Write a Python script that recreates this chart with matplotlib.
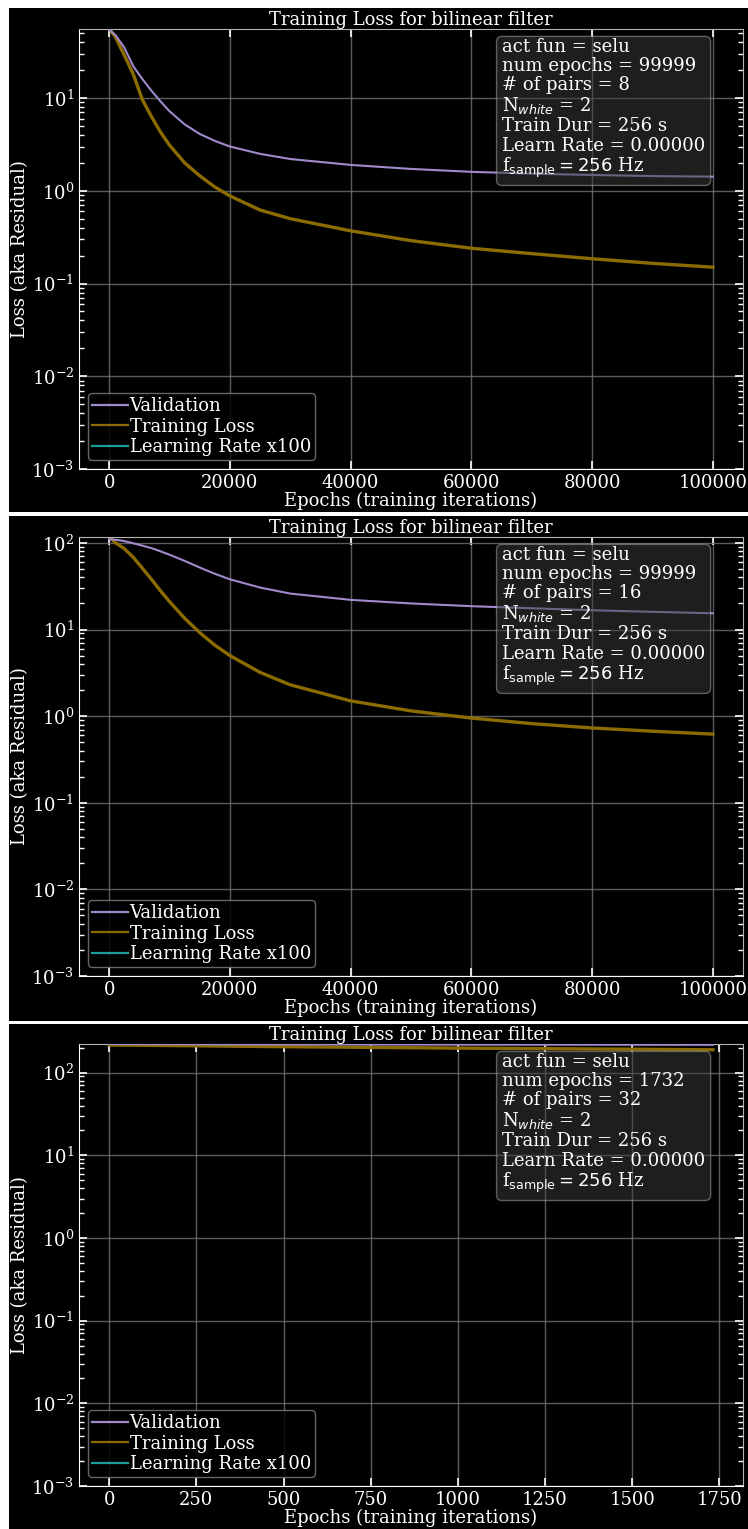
import matplotlib
matplotlib.use("Agg")
import matplotlib.pyplot as plt
from matplotlib.patches import Rectangle
from matplotlib.ticker import LogLocator, NullFormatter, MultipleLocator

# ---- data -------------------------------------------------------------
epochs_a = [0, 1000, 2500, 4000, 5500, 7000, 8500, 10000, 12500, 15000, 17500,
            20000, 25000, 30000, 40000, 50000, 60000, 70000, 80000, 90000, 99999]

val_8 = [54, 48, 35, 22, 16, 12, 9.2, 7.2, 5.2, 4.1, 3.45,
         3.0, 2.5, 2.2, 1.9, 1.72, 1.6, 1.53, 1.48, 1.44, 1.42]
train_8 = [55.5, 46, 29, 18, 9.6, 6.3, 4.3, 3.1, 2.0, 1.45, 1.1,
           0.88, 0.62, 0.50, 0.37, 0.29, 0.24, 0.21, 0.185, 0.165, 0.15]

val_16 = [110, 109, 105, 99, 93, 87, 80, 73, 62, 52, 44,
          38, 30.5, 26, 22, 20, 18.6, 17.6, 16.7, 16.0, 15.4]
train_16 = [117, 101, 86, 68, 51, 38, 28, 21, 13.5, 9.2, 6.6,
            5.0, 3.2, 2.3, 1.5, 1.15, 0.95, 0.82, 0.73, 0.67, 0.62]

epochs_b = [0, 250, 500, 750, 1000, 1250, 1500, 1731]
val_32 = [222, 221, 220, 219, 218.5, 218, 217.5, 217]
train_32 = [216, 211, 206, 202, 198, 195, 192, 189]

learn_rate = [1e-6, 1e-6, 1e-6]
num_epochs = [99999, 99999, 1732]
num_pairs = [8, 16, 32]
act_fun = "selu"
n_white = 2
train_dur = 256
f_sample = 256

# ---- style ------------------------------------------------------------
FS = 13
plt.rcParams["font.family"] = ["DejaVu Serif"]
plt.rcParams["font.size"] = FS
plt.rcParams["text.color"] = "white"
plt.rcParams["axes.labelcolor"] = "white"
plt.rcParams["xtick.color"] = "white"
plt.rcParams["ytick.color"] = "white"
plt.rcParams["mathtext.fontset"] = "dejavusans"

C_VAL = "#a08acb"
C_TRAIN = "#8c6c00"
C_LR = "#1a9e9a"

W, H = 748, 1529
fig = plt.figure(figsize=(W / 100, H / 100), dpi=100, facecolor="white")


def fy(py):
    return 1 - py / H


# panel backgrounds (x0, y0, x1, y1 in pixels from top-left)
panels = [(9, 8, 748, 512), (9, 516, 748, 1021), (9, 1024, 748, 1529)]
axes_px = [(79, 29, 743, 469), (79, 537, 743, 976), (79, 1044, 743, 1486)]

series = [
    (epochs_a, val_8, train_8),
    (epochs_a, val_16, train_16),
    (epochs_b, val_32, train_32),
]

for i in range(3):
    x0, y0, x1, y1 = panels[i]
    fig.patches.append(Rectangle((x0 / W, fy(y1)), (x1 - x0) / W, (y1 - y0) / H,
                                 transform=fig.transFigure, facecolor="black",
                                 edgecolor="none", zorder=-10))
    l, t, r, b = axes_px[i]
    ax = fig.add_axes([l / W, fy(b), (r - l) / W, (b - t) / H])
    ax.set_facecolor("black")

    ep, val, tr = series[i]
    lr100 = [v * 100 for v in [learn_rate[i]] * len(ep)]
    ax.plot(ep, val, color=C_VAL, lw=1.5, label="Validation", zorder=3)
    ax.plot(ep, tr, color=C_TRAIN, lw=2.4, label="Training Loss", zorder=2)
    ax.plot(ep, lr100, color=C_LR, lw=1.5, label="Learning Rate x100", zorder=2)

    ax.set_yscale("log")
    ax.set_ylim(1e-3, max(max(val), max(tr)))
    ax.yaxis.set_major_locator(LogLocator(base=10, numticks=10))
    ax.yaxis.set_minor_locator(LogLocator(base=10, subs=range(2, 10), numticks=10))
    ax.yaxis.set_minor_formatter(NullFormatter())
    if i == 2:
        ax.xaxis.set_major_locator(MultipleLocator(250))

    ax.grid(True, which="major", color="0.45", lw=1.0, alpha=0.8)
    ax.tick_params(which="both", direction="in", top=True, right=True,
                   colors="white", labelsize=FS)
    ax.tick_params(which="major", length=6, width=1.2)
    ax.tick_params(which="minor", length=3.5, width=1.0)
    for side in ("left", "bottom"):
        ax.spines[side].set_color("white")
    for side in ("top", "right"):
        ax.spines[side].set_color("0.7")

    ax.set_title("Training Loss for bilinear filter", fontsize=FS, color="white", pad=3)
    ax.set_xlabel("Epochs (training iterations)", fontsize=FS, labelpad=0)
    ax.set_ylabel("Loss (aka Residual)", fontsize=FS, labelpad=2)

    info = (f"act fun = {act_fun}\n"
            f"num epochs = {num_epochs[i]}\n"
            f"# of pairs = {num_pairs[i]}\n"
            f"N$_{{white}}$ = {n_white}\n"
            f"Train Dur = {train_dur} s\n"
            f"Learn Rate = {learn_rate[i]:.5f}\n"
            f"f$_{{\\mathrm{{sample}}}} = {f_sample}$ Hz")
    ax.text(0.637, 0.98, info, transform=ax.transAxes, va="top", ha="left",
            fontsize=FS, color="white", zorder=5, linespacing=1.08,
            bbox=dict(boxstyle="round,pad=0.3", facecolor="#3a3d3d",
                      edgecolor="#b0b0b0", alpha=0.5))

    leg = ax.legend(loc="lower left", facecolor="black", edgecolor="0.5",
                    framealpha=0.8, borderpad=0.2, labelspacing=0.15,
                    handletextpad=0.1, handlelength=2.0, fontsize=FS)
    for line in leg.get_lines():
        line.set_linewidth(1.6)
    for txt in leg.get_texts():
        txt.set_color("white")

fig.savefig("out.png", dpi=100, facecolor="white")
